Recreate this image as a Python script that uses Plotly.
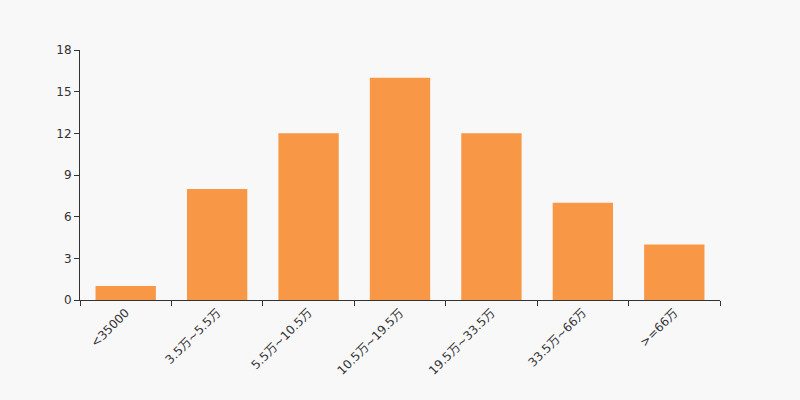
import plotly.graph_objects as go

categories = ["<35000", "3.5万~5.5万", "5.5万~10.5万", "10.5万~19.5万", "19.5万~33.5万", "33.5万~66万", ">=66万"]
values = [1, 8, 12, 16, 12, 7, 4]
y_ticks = [0, 3, 6, 9, 12, 15, 18]

fig = go.Figure(go.Bar(x=categories, y=values, marker=dict(color="#f89847", line=dict(width=0))))
fig.update_layout(
    width=800, height=400,
    margin=dict(l=80, r=80, t=50, b=100),
    paper_bgcolor="#f8f8f8", plot_bgcolor="#f8f8f8",
    bargap=0.34,
    showlegend=False,
    font=dict(family="DejaVu Sans, Noto Sans CJK SC", size=12, color="#333"),
)
fig.update_xaxes(
    type="category", tickangle=-45, tickson="boundaries",
    ticks="outside", ticklen=5, tickcolor="#333",
    showline=True, linecolor="#333", linewidth=1, showgrid=False,
    tickfont=dict(size=12, color="#333"),
)
fig.update_yaxes(
    range=[0, 18], tickvals=y_ticks, ticks="outside", ticklen=5, tickcolor="#333",
    showline=True, linecolor="#333", linewidth=1, showgrid=False, zeroline=False,
    tickfont=dict(size=12, color="#333"),
)
fig.write_html(
    "out.html",
    config={"displayModeBar": False},
    post_script="document.body.style.margin='0';document.body.style.background='#f8f8f8';",
)
